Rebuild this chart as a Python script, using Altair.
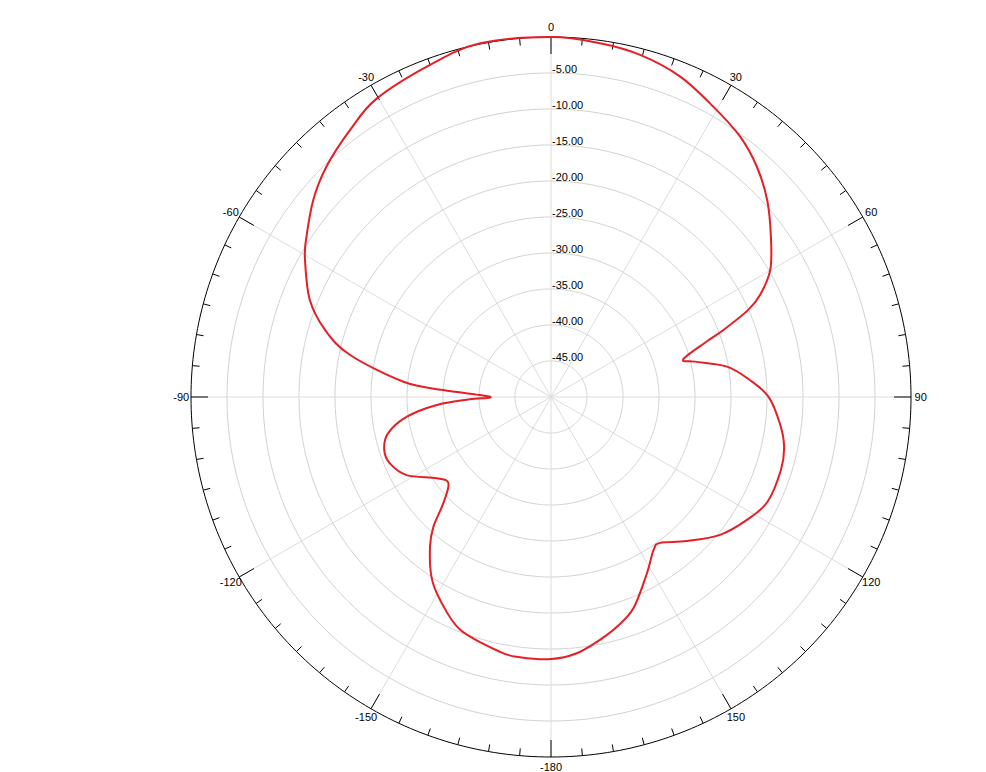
import altair as alt
import numpy as np
import pandas as pd

# Radiation pattern (angle in degrees, gain in dB), closed loop from -180
ANGLES = [-180, -173.2, -168.7, -158.7, -151.3, -146.4, -141, -137.8, -134.6,
          -130, -125.4, -118.4, -112.4, -107.6, -102.6, -97.8, -94, -91.6, -89.7,
          -86.3, -84.1, -78.2, -73.5, -68.1, -60.9, -57.4, -50.3,
          -44.2, -37, -30.3, -20, -11.3, 0, 7.9, 14.6, 21.9, 29.2,
          36, 41.8, 47.7, 53.9, 59.9, 64, 66.2, 68.75, 70.4, 74.1,
          76.2, 80.2, 85.1, 89.9, 96.6, 102, 107.6, 115.9,
          122.2, 129.2, 136.7, 143.2, 146.2, 151.5, 158.7, 164, 168.6, 174.4]
GAINS = [-13.6, -13.6, -13.9, -15.3, -17.9, -20.0, -23.3, -25.7, -29.0,
         -31.4, -30.5, -27.2, -25.8, -25.7, -26.8, -29.8, -34.1, -38.7, -41.5,
         -35.0, -29.4, -21.5, -17.3, -13.9, -10.9, -9.6, -7.1,
         -5.3, -3.6, -2.0, -0.9, 0.1, 0.0, -0.4, -0.9, -2.0, -3.8,
         -5.3, -7.1, -9.4, -12.2, -14.8, -17.7, -20.1, -24.3, -27.1, -30.9,
         -29.4, -25.2, -22.3, -19.8, -18.0, -16.9, -16.5, -16.6,
         -17.9, -19.7, -22.5, -24.7, -24.4, -22.1, -18.5, -16.8, -15.6, -14.2]

RING_LEVELS = [-5, -10, -15, -20, -25, -30, -35, -40, -45]
RING_LABELS = ["-5.00", "-10.00", "-15.00", "-20.00", "-25.00", "-30.00",
               "-35.00", "-40.00", "-45.00"]
SPOKE_ANGLES = [0, 30, 60, 90, 120, 150, 180, 210, 240, 270, 300, 330]
SPOKE_LABELS = ["0", "30", "60", "90", "120", "150", "-180", "-150", "-120",
                "-90", "-60", "-30"]
TICK_ANGLES = list(range(0, 360, 5))

FLOOR = 50  # dB at the centre is -50
FONT = "Liberation Sans"

xs = alt.Scale(domain=[-FLOOR, FLOOR], nice=False, zero=False)
ys = alt.Scale(domain=[-FLOOR, FLOOR], nice=False, zero=False)
X = lambda f: alt.X(f, type="quantitative", scale=xs, axis=None)
Y = lambda f: alt.Y(f, type="quantitative", scale=ys, axis=None)

theta_grid = np.arange(0, 361, 1)

rings = pd.DataFrame([(lv, t) for lv in RING_LEVELS for t in theta_grid],
                     columns=["level", "t"])
outer = pd.DataFrame({"level": [0] * len(theta_grid), "t": theta_grid})

ring_calc = dict(
    x=f"(datum.level+{FLOOR})*sin(datum.t*PI/180)",
    y=f"(datum.level+{FLOOR})*cos(datum.t*PI/180)",
)

ring_layer = alt.Chart(rings).transform_calculate(**ring_calc).mark_line(
    color="#d2d2d2", strokeWidth=1
).encode(x=X("x"), y=Y("y"), detail="level:N", order="t:Q")

outer_layer = alt.Chart(outer).transform_calculate(**ring_calc).mark_line(
    color="#000000", strokeWidth=1
).encode(x=X("x"), y=Y("y"), order="t:Q")

spokes = pd.DataFrame({"a": SPOKE_ANGLES, "lab": SPOKE_LABELS})
spoke_layer = alt.Chart(spokes).transform_calculate(
    x0="0", y0="0",
    x1=f"{FLOOR}*sin(datum.a*PI/180)",
    y1=f"{FLOOR}*cos(datum.a*PI/180)",
).mark_rule(color="#dcdcdc", strokeWidth=1).encode(
    x=X("x0"), y=Y("y0"), x2="x1:Q", y2="y1:Q"
)

ticks = pd.DataFrame({"a": TICK_ANGLES})
tick_layer = alt.Chart(ticks).transform_calculate(
    L="datum.a % 30 == 0 ? 2.36 : 1.0",
).transform_calculate(
    x0=f"{FLOOR}*sin(datum.a*PI/180)",
    y0=f"{FLOOR}*cos(datum.a*PI/180)",
    x1=f"({FLOOR}-datum.L)*sin(datum.a*PI/180)",
    y1=f"({FLOOR}-datum.L)*cos(datum.a*PI/180)",
).mark_rule(color="#000000", strokeWidth=1).encode(
    x=X("x0"), y=Y("y0"), x2="x1:Q", y2="y1:Q"
)

angle_label_layer = alt.Chart(spokes).transform_calculate(
    x=f"{FLOOR + 1.35}*sin(datum.a*PI/180)",
    y=f"{FLOOR + 1.35}*cos(datum.a*PI/180)",
).mark_text(font=FONT, fontSize=11, color="#000000", align="center",
            baseline="middle", dy=1).encode(x=X("x"), y=Y("y"), text="lab:N")

ring_lab = pd.DataFrame({"level": RING_LEVELS, "lab": RING_LABELS})
ring_label_layer = alt.Chart(ring_lab).transform_calculate(
    x="0", y=f"datum.level+{FLOOR}"
).mark_text(font=FONT, fontSize=11, color="#000000", align="left",
            baseline="alphabetic", dx=1).encode(x=X("x"), y=Y("y"), text="lab:N")

pattern = pd.DataFrame({"angle": ANGLES, "gain": GAINS, "i": range(len(ANGLES))})
pattern_layer = alt.Chart(pattern).transform_calculate(
    x=f"(datum.gain+{FLOOR})*sin(datum.angle*PI/180)",
    y=f"(datum.gain+{FLOOR})*cos(datum.angle*PI/180)",
).mark_line(color="#e41f25", strokeWidth=2, interpolate="cardinal-closed").encode(
    x=X("x"), y=Y("y"), order="i:Q"
)

chart = alt.layer(
    ring_layer, spoke_layer, outer_layer, tick_layer,
    ring_label_layer, angle_label_layer, pattern_layer
).properties(
    width=720, height=720,
    autosize=alt.AutoSizeParams(type="none"),
    padding={"left": 183, "top": 29, "right": 60, "bottom": 15},
).configure_view(stroke=None)

chart.save("out.html", embed_options={"renderer": "svg", "actions": False})
